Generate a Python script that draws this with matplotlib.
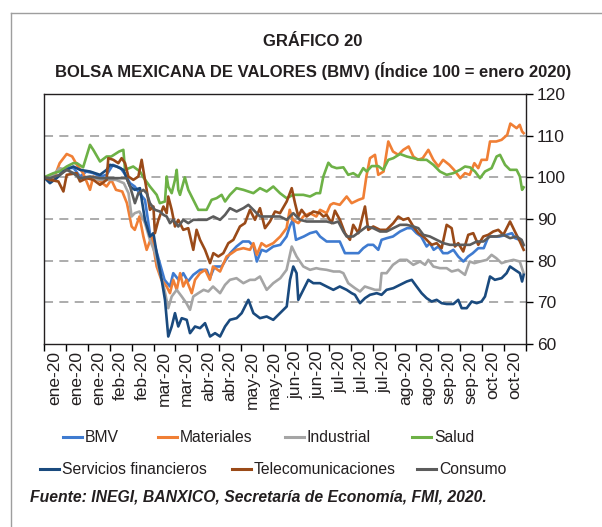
import matplotlib.pyplot as plt
from matplotlib.lines import Line2D

#  Day offsets from 2 Jan 2020 and index values

bmv_d = [0, 4, 10, 14.5, 19, 23, 27, 31.5, 36, 40, 44, 49, 52, 55, 58, 61, 64.5, 68, 71, 74, 77, 80.5,
         82.6, 86, 89, 92, 95.4, 99.7, 104, 106, 109, 113.5, 119, 123, 127, 131, 134, 136, 139, 142,
         146.5, 151, 155, 157, 159, 161, 166, 170, 174, 176.4, 180.6, 185, 189, 192.3, 195.5, 201,
         204, 207, 210.4, 213.6, 215.7, 219, 223, 227.5, 232, 235, 238, 241, 244.5, 246.6, 249, 252,
         255, 258, 261.6, 264.7, 268, 271, 274, 277.5, 281, 284, 287, 291, 295.6, 299, 301, 304, 306]
bmv_v = [100, 99.4, 100.6, 102.4, 102.2, 100.2, 101.4, 101, 100.2, 100.6, 103, 102.2, 100.6, 98.6,
         97.8, 96.2, 94.6, 85.8, 83.4, 79.4, 75.4, 73.8, 77, 75.4, 77, 75, 76.6, 77.8, 77.8, 75.8, 78.6,
         78.6, 81.8, 83.4, 84.6, 84.6, 83.4, 79.8, 82.6, 82.2, 83.4, 83.8, 85.8, 88.2, 89.8, 85, 85.8,
         86.6, 87, 85.8, 84.6, 84.6, 84.6, 81.8, 81.8, 81.8, 83, 83.8, 83.8, 82.6, 85, 85.4, 85.8, 87,
         87.8, 87.8, 86.6, 85.8, 83.4, 84.2, 82.6, 83.4, 81.8, 81.8, 82.6, 81, 79.8, 81, 81.8, 83, 83,
         85.8, 85.8, 85.8, 86.2, 86.6, 85.4, 85, 83.6]

mat_d = [0, 6, 10, 14.5, 18, 21, 25, 29.4, 31.5, 36, 40, 43, 46, 50, 53, 56, 58, 61, 63.5, 65.6, 68.8,
         72, 75, 78.4, 80.5, 82.6, 84.8, 87, 89, 91, 94.4, 96.5, 99.7, 103, 106, 108, 112.5, 116.7,
         120, 123, 127.4, 131.6, 133.8, 136, 139, 142, 146.5, 151, 155, 157, 159, 162.5, 165.7, 170,
         174, 176.4, 180.6, 183, 185, 189, 193.4, 196.6, 201, 204, 206, 208.3, 211.5, 213.6, 217, 220,
         223, 226.4, 229.6, 233, 236, 239, 242, 245.6, 248.8, 252, 255, 259, 262, 266, 269, 272, 275,
         277.5, 279.6, 283, 285, 289, 292.4, 296, 298, 302, 304, 305.5, 306.5]
mat_v = [100, 99.4, 103.4, 105.6, 105, 103, 101, 97, 100.2, 99, 97.8, 99.4, 97, 96.6, 93.8, 88.2, 87.4,
         90.6, 85.8, 82.6, 85.8, 78.6, 75.4, 73.8, 72.2, 75.4, 73, 77, 73.8, 75.4, 72.2, 75.4, 77, 77.8,
         75.4, 78.6, 77.4, 81, 81.8, 82.6, 83, 82.6, 84.2, 81.4, 84.2, 83.4, 84.2, 85.8, 87.8, 92.2,
         89.8, 89, 90.6, 91.4, 90.6, 92.2, 91.4, 93.4, 93.8, 93.4, 95.4, 93.8, 94.6, 95, 100.2, 104.6,
         105.4, 100.6, 101.4, 108.6, 106.2, 105.4, 106.6, 107.4, 105, 104.2, 104.6, 106.6, 104.2, 102.6,
         104.2, 103, 101.8, 99.8, 101, 100.6, 103.4, 102.2, 104.2, 104.2, 108.6, 108.6, 109, 110.2,
         112.9, 111.8, 112.6, 111, 110.6]

ind_d = [0, 6, 10, 14.5, 19, 23, 29, 36, 40, 46, 51, 54, 56, 58, 61, 64.5, 67.7, 71, 74, 77, 79.4, 81.6,
         84.8, 88, 91, 93.3, 95.4, 98.6, 102, 105, 108, 112.5, 115.7, 118.8, 123, 127.4, 131.6, 134.8,
         138, 142.3, 146.5, 151, 155, 158.3, 161.4, 165.7, 170, 174, 176.4, 180.6, 185, 189, 191.3,
         194.4, 198.7, 201.9, 205, 208.3, 211.5, 214.7, 215.7, 218.9, 223, 227.5, 231.8, 236, 240.3,
         243.5, 245.6, 248.8, 253, 257.3, 260.5, 264.7, 269, 272, 275, 278.6, 283, 286, 289, 292.4,
         295.6, 300, 304, 306.5]
ind_v = [100, 100.6, 102.2, 101.8, 101, 99.4, 99.8, 99.4, 99.4, 99.4, 98.6, 96.2, 90.6, 91.4, 91.8, 89,
         85, 81.8, 77.2, 73, 68.6, 71.4, 73, 71.4, 69.8, 68.2, 71.4, 72.2, 73, 72.6, 73.8, 72.2, 74.2,
         75.4, 75.8, 74.6, 75.4, 75.4, 76.2, 73, 74.6, 75.8, 77.8, 83.4, 81, 78.6, 77.8, 78.2, 78, 77.8,
         77.4, 77.4, 77, 74.6, 73.4, 72.6, 73.8, 73.4, 73, 73, 77, 77, 79, 80.2, 80.2, 79, 79.8, 79, 80.2,
         78.6, 78.2, 78.2, 77.4, 77.8, 76.6, 79.8, 79.4, 79.8, 80.2, 81.4, 80.6, 79.4, 79.8, 80.2, 79.8, 77]

sal_d = [0, 6, 10, 14.5, 18.7, 21, 25, 29.4, 31.5, 35.8, 40, 43, 48, 50.7, 51.8, 57, 61.3, 63.5, 67.7,
         72, 74, 77.3, 78.4, 79.4, 81.6, 83.7, 84.8, 85.8, 86.9, 90, 92.2, 95.4, 98.6, 103.9, 107.1,
         110.3, 113.5, 115.7, 118.8, 123, 127.4, 133.8, 138, 142.3, 146.5, 150.8, 155, 159.3, 165.7, 170,
         174, 176.4, 178.5, 181.7, 183.8, 187, 191.3, 194.4, 197.6, 200.9, 204, 206.2, 209.4, 213.6,
         216.8, 220, 223.2, 227.5, 231.8, 236, 240.3, 244.5, 248.8, 253, 257.3, 261.6, 265.8, 269, 272.2,
         275.4, 278.6, 281.8, 286, 289.2, 291.4, 294.6, 297.8, 302, 304.1, 305.5, 306.5]
sal_v = [100, 101, 101.4, 102.6, 103.4, 103.4, 102.4, 107.8, 106.6, 103.8, 105, 105, 106.2, 106.6, 101.8,
         102.6, 101.4, 100, 97.8, 95.8, 93.8, 94.2, 100.2, 97.8, 96.2, 99.4, 101.8, 97, 95.8, 100, 97,
         94.6, 92.2, 92.2, 94.6, 95, 95.8, 94.2, 95.8, 97.4, 97, 96.2, 97.4, 96.6, 97.8, 96.2, 95, 95.8,
         95.8, 95.4, 96.2, 96.2, 100.2, 103.5, 102.6, 102.2, 102.4, 100.6, 101, 100.2, 102.2, 101.4,
         102.7, 102.7, 101.8, 104.2, 104.6, 105.6, 105, 104.6, 104.2, 104.2, 103, 101.4, 100.6, 101,
         101.8, 102.6, 102.4, 101.4, 99.8, 101.4, 102.2, 105, 105.4, 103, 101.8, 101.8, 100.2, 97, 97.6]

sfin_d = [0, 3.8, 8.1, 12.4, 18.7, 23, 29.4, 35.8, 40, 42.2, 46.4, 50.7, 55, 58, 61.3, 64.5, 67.7, 69.9,
          72, 75.2, 77.3, 79.4, 81.6, 83.7, 85.8, 88, 91.2, 93.3, 96.5, 99.7, 102.9, 106.1, 109.3, 112.5,
          115.7, 118.8, 123.1, 126.3, 130.6, 133.8, 138, 142.3, 146.5, 150.8, 155.1, 157.2, 159.3,
          161.4, 162.5, 165.7, 168.9, 172.1, 176.4, 180.6, 184.9, 189, 193.4, 196.6, 198.7, 201.9, 205.1,
          208.3, 212.6, 215.7, 218.9, 223.2, 227.5, 231.8, 235, 238.1, 241.3, 244.5, 247.7, 250.9, 254.1,
          257.3, 261.6, 264.7, 266.9, 270.1, 273.3, 276.5, 279.6, 281.8, 285, 288.1, 292.4, 295.6,
          297.8, 300.9, 304.1, 305.5, 306.5]
sfin_v = [100, 98.6, 99.8, 101.4, 102.6, 101.8, 101.4, 100.6, 101.8, 103, 102.6, 101.8, 97.8, 97, 97.4,
          89.8, 85.8, 86.6, 81.8, 75.4, 70.6, 61.8, 64.2, 67.4, 64.2, 66.2, 65.8, 62.6, 64.2, 63.8, 65,
          61.8, 62.6, 61.8, 64.2, 65.8, 66.2, 67.4, 70.6, 67.4, 66.2, 66.6, 65.8, 67.4, 69, 75.4, 78.6,
          77, 70.6, 73, 75.4, 74.6, 74.6, 73.8, 73, 73.8, 73, 72.2, 71.8, 69.8, 71, 71.8, 72.2, 71.8, 73,
          73.4, 74.2, 75, 75.4, 73.8, 72.2, 71, 70.2, 70.6, 69.8, 69.6, 69.6, 70.6, 68.6, 68.6, 70.2,
          69.8, 70.2, 71.4, 76.2, 75.4, 75.8, 77, 78.6, 77.8, 77, 75, 76.6]

tel_d = [0, 3.8, 9.2, 12.4, 14.5, 20.9, 23, 27.3, 31.5, 35.8, 40, 41.1, 44.3, 47.5, 49.6, 51.8, 53.9,
         57.1, 60.3, 62.4, 64.5, 65.6, 67.7, 69.9, 70.9, 73.1, 76.3, 78.4, 79.4, 81.6, 83.7, 85.8, 89,
         92.2, 95.4, 97.5, 99.7, 102.9, 106.1, 108.2, 111.4, 114.6, 117.8, 121, 125.2, 128.4, 131.6,
         134.8, 138, 141.2, 144.4, 147.6, 150.8, 155.1, 158.3, 160.4, 162.5, 164.6, 167.8, 172.1, 176.4,
         178.5, 180.6, 183.8, 185.9, 189.1, 192.3, 195.5, 197.6, 200.9, 205.1, 207.2, 210.4, 214.7,
         218.9, 223.2, 226.4, 229.6, 232.8, 236, 239.2, 242.4, 244.5, 247.7, 250.9, 254.1, 257.3, 260.5,
         262.6, 264.7, 267.9, 271.1, 274.3, 277.5, 280.7, 283.9, 287.1, 290.3, 293.5, 297.8, 300.9,
         304.1, 306.5]
tel_v = [100, 99.4, 99, 96.6, 100.6, 101, 99, 99.8, 99.4, 98.2, 99.4, 104.6, 104.2, 103.4, 104.6, 103.4,
         100.2, 99.4, 100.2, 104.2, 99.4, 97, 92.2, 93, 86.6, 89.8, 93, 91.4, 95.4, 92.2, 88.2, 89.8,
         87.4, 87.8, 82.6, 87.4, 85, 82.6, 79.4, 81.8, 81, 81.8, 84.2, 85, 88.2, 89, 92.2, 89.8, 92.6,
         87.8, 89.4, 91.8, 91.4, 94.2, 97.4, 93.8, 90.6, 92.2, 90.6, 91.8, 91.4, 90.6, 91, 89, 92, 89.8,
         86.6, 85, 88.6, 86.6, 93, 87.4, 88.2, 87.4, 87.4, 89, 90.6, 89.8, 90.2, 88.2, 86.6, 85.8, 85,
         83.8, 84.2, 83, 88.6, 87.8, 83.4, 84.2, 82.2, 86.2, 86.6, 83.8, 85.8, 86.2, 87, 87.4, 86.2,
         89.4, 87, 84.6, 82.6]

con_d = [0, 3.8, 10.2, 14.5, 18.7, 23, 29.4, 35.8, 42.2, 48.6, 52.8, 55, 58.1, 60.3, 63.5, 65.6, 67.7,
         70.9, 74.1, 76.3, 78.4, 80.5, 82.6, 85.8, 89, 92.2, 95.4, 99.7, 103.9, 108.2, 112.5, 115.7,
         118.8, 123.1, 127.4, 130.6, 133.8, 138, 142.3, 146.5, 150.8, 155.1, 159.3, 163.6, 167.8, 176.4,
         180.6, 184.9, 188, 191.3, 193.4, 197.6, 201.9, 206.2, 210.4, 214.7, 218.9, 223.2, 227.5, 231.8,
         236, 239.2, 242.4, 246.6, 250.9, 255.2, 259.4, 265.8, 272.2, 276.5, 280.7, 285, 289.2, 293.5,
         297.8, 302, 305.2, 306.5]
con_v = [100, 99.8, 100.6, 101.8, 101, 99.8, 100.2, 99.8, 99.8, 99.8, 99.8, 97.8, 93.8, 96.2, 97, 96.2,
         93.8, 92.2, 91.8, 91, 90.6, 89, 89.8, 88.2, 89.8, 89, 89.8, 89.8, 89.8, 90.6, 89.8, 91, 92.6,
         91.8, 92.6, 93.4, 92.2, 90.6, 90.6, 90.6, 90.6, 89.8, 91.4, 89.8, 89.4, 89.4, 89.4, 89, 89.4, 87,
         85.8, 85.8, 87, 88.2, 87.8, 87, 87, 87.8, 88.6, 88.6, 88.2, 87.8, 86.2, 85.8, 85, 84.2, 83.8,
         83.8, 83.8, 84.6, 84.6, 85.8, 85.8, 86.2, 85.4, 85.8, 85, 83.8]

series_names = ["BMV", "Materiales", "Industrial", "Salud",
                "Servicios financieros", "Telecomunicaciones", "Consumo"]
tick_labels = ["ene-20", "ene-20", "ene-20", "feb-20", "feb-20", "mar-20", "mar-20", "abr-20",
               "abr-20", "may-20", "may-20", "jun-20", "jun-20", "jul-20", "jul-20", "jul-20",
               "ago-20", "ago-20", "sep-20", "sep-20", "oct-20", "oct-20"]
y_ticks = [60, 70, 80, 90, 100, 110, 120]

colors = ["#3F7BD0", "#F07F35", "#A5A5A5", "#6DB146", "#1A4A7E", "#9A4A18", "#5C5C5C"]
series = [(bmv_d, bmv_v), (mat_d, mat_v), (ind_d, ind_v), (sal_d, sal_v),
          (sfin_d, sfin_v), (tel_d, tel_v), (con_d, con_v)]

plt.rcParams["font.family"] = ["Liberation Sans", "DejaVu Sans"]

W, H = 602, 527
fig = plt.figure(figsize=(W / 100, H / 100), dpi=100)


def fx(px):
    return px / W


def fy(py):
    return 1 - py / H


#  Frame around the figure (top and left only)
fig.add_artist(Line2D([fx(11), 1], [fy(13), fy(13)], color="#9E9E9E", lw=1.0))
fig.add_artist(Line2D([fx(11), fx(11)], [fy(13), 0], color="#9E9E9E", lw=1.0))

fig.text(fx(313), fy(42), "GRÁFICO 20", ha="center", va="center",
         fontsize=12, fontweight="bold", color="#231F20")
fig.text(fx(313), fy(71), "BOLSA MEXICANA DE VALORES (BMV) (Índice 100 = enero 2020)",
         ha="center", va="center", fontsize=12, fontweight="bold", color="#231F20")

ax = fig.add_axes([fx(44), fy(344), fx(526) - fx(44), fy(94) - fy(344)])

for y in y_ticks[1:-1]:
    ax.axhline(y, color="#A6A6A6", lw=1.3, ls=(0, (5, 3.5)), zorder=1)

for (d, v), c in zip(series, colors):
    ax.plot(d, v, color=c, lw=1.9, solid_joinstyle="round", zorder=2)

n = len(tick_labels)
step = 14
ax.set_xlim(0, n * step)
ax.set_ylim(60, 120)
ax.set_xticks([i * step for i in range(n + 1)])
ax.set_xticks([i * step + step / 2 for i in range(n)], minor=True)
ax.set_xticklabels([])
ax.set_xticklabels(tick_labels, minor=True, rotation=90, fontsize=12.5, color="#231F20")
ax.tick_params(axis="x", which="major", direction="out", length=5, width=1)
ax.tick_params(axis="x", which="minor", length=0, pad=5)

ax.yaxis.tick_right()
ax.set_yticks(y_ticks)
ax.tick_params(axis="y", direction="out", length=5, width=1, labelsize=12.5,
               labelcolor="#231F20", pad=3)
for s in ax.spines.values():
    s.set_color("#231F20")
    s.set_linewidth(1.0)

#  Legend drawn by hand: two centred rows
legend_rows = [
    (437, [(63, 0), (158, 1), (285, 2), (412, 3)]),
    (469, [(40, 4), (232, 5), (417, 6)]),
]
for ly, items in legend_rows:
    for lx, i in items:
        fig.add_artist(Line2D([fx(lx), fx(lx + 19)], [fy(ly), fy(ly)],
                              color=colors[i], lw=2.2))
        fig.text(fx(lx + 22), fy(ly), series_names[i], ha="left", va="center",
                 fontsize=11.3, color="#231F20")

fig.text(fx(30), fy(497), "Fuente: INEGI, BANXICO, Secretaría de Economía, FMI, 2020.",
         ha="left", va="center", fontsize=11.3, fontweight="bold", fontstyle="italic",
         color="#231F20")

fig.savefig("out.png", dpi=100)
